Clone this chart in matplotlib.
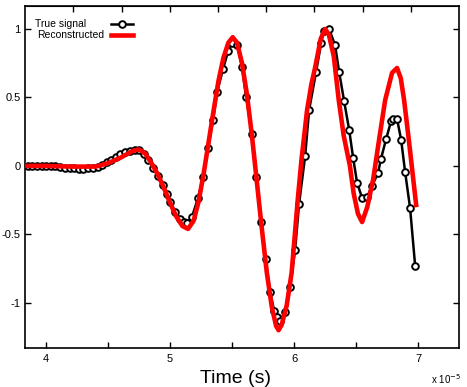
import numpy as np
import matplotlib
matplotlib.use("Agg")
import matplotlib.pyplot as plt
from matplotlib.lines import Line2D

plt.rcParams["font.family"] = ["Liberation Sans", "DejaVu Sans"]

# time in units of 1e-5 s
true_t = [3.855, 3.89, 3.93, 3.965, 4.0, 4.04, 4.075, 4.115, 4.15, 4.19, 4.225, 4.265,
          4.30, 4.34, 4.375, 4.415, 4.45, 4.49, 4.525, 4.565, 4.60, 4.64, 4.675, 4.715,
          4.75, 4.79, 4.825, 4.865, 4.90, 4.94, 4.975, 5.00, 5.04, 5.08, 5.11, 5.14,
          5.177, 5.226, 5.266, 5.306, 5.347, 5.379, 5.427, 5.468, 5.50, 5.54, 5.58,
          5.613, 5.661, 5.694, 5.734, 5.77, 5.806, 5.84, 5.863, 5.887, 5.927, 5.968,
          6.008, 6.04, 6.089, 6.121, 6.177, 6.218, 6.24, 6.282, 6.33, 6.363, 6.403,
          6.444, 6.476, 6.508, 6.548, 6.589, 6.629, 6.677, 6.70, 6.742, 6.782, 6.80,
          6.83, 6.863, 6.895, 6.935, 6.976]
true_y = [0.0, 0.0, 0.0, 0.0, 0.0, -0.002, -0.004, -0.008, -0.012, -0.015, -0.018, -0.02,
          -0.02, -0.017, -0.012, -0.005, 0.008, 0.025, 0.045, 0.065, 0.085, 0.10, 0.112, 0.118,
          0.115, 0.09, 0.045, -0.015, -0.075, -0.14, -0.205, -0.263, -0.336, -0.385, -0.41, -0.416,
          -0.37, -0.234, -0.08, 0.131, 0.336, 0.54, 0.708, 0.839, 0.895, 0.885, 0.723,
          0.504, 0.234, -0.08, -0.409, -0.68, -0.92, -1.06, -1.10, -1.131, -1.066, -0.883,
          -0.613, -0.277, 0.073, 0.409, 0.686, 0.898, 0.985, 1.0, 0.883, 0.686, 0.474,
          0.263, 0.058, -0.124, -0.234, -0.226, -0.146, -0.05, 0.05, 0.197, 0.328, 0.34,
          0.343, 0.19, -0.044, -0.307, -0.73]

rec_t = [3.85, 4.0, 4.2, 4.4, 4.5, 4.6, 4.7, 4.75, 4.8, 4.85, 4.9, 4.95, 5.0, 5.05, 5.1,
         5.145, 5.19, 5.23, 5.27, 5.31, 5.35, 5.39, 5.43, 5.47, 5.505, 5.54, 5.58, 5.62,
         5.66, 5.70, 5.74, 5.78, 5.82, 5.855, 5.875, 5.90, 5.94, 5.98, 6.03, 6.06, 6.105,
         6.14, 6.17, 6.215, 6.25, 6.28, 6.32, 6.36, 6.40, 6.45, 6.48, 6.515, 6.548, 6.59,
         6.637, 6.69, 6.734, 6.79, 6.83, 6.86, 6.887, 6.93, 6.984]
rec_y = [0.0, 0.0, -0.005, -0.005, 0.02, 0.06, 0.11, 0.12, 0.09, 0.02, -0.06, -0.16,
         -0.27, -0.37, -0.44, -0.46, -0.40, -0.26, -0.06, 0.17, 0.40, 0.62, 0.79, 0.90,
         0.94, 0.90, 0.75, 0.52, 0.22, -0.12, -0.46, -0.78, -1.03, -1.17, -1.20, -1.16,
         -1.02, -0.78, -0.24, 0.05, 0.41, 0.60, 0.72, 0.93, 1.0, 0.96, 0.80, 0.48, 0.22,
         0.0, -0.2, -0.35, -0.41, -0.30, -0.10, 0.22, 0.48, 0.68, 0.715, 0.64, 0.48, 0.15,
         -0.285]

x_ticks = [4, 4.5, 5, 5.5, 6, 6.5, 7]
x_labels = ["4", "", "5", "", "6", "", "7"]
y_ticks = [-1, -0.5, 0, 0.5, 1]
y_labels = ["-1", "-0.5", "0", "0.5", "1"]

fig = plt.figure(figsize=(4.67, 3.87), dpi=100)
ax = fig.add_axes([0.0535, 0.1008, 0.9295, 0.8837])

ax.plot(true_t, true_y, color="black", lw=1.8, marker="o", ms=4.8,
        mfc="white", mec="black", mew=1.4, zorder=2)
ax.plot(rec_t, rec_y, color="#ff0000", lw=3.3, zorder=3)

ax.set_xlim(3.83, 7.33)
ax.set_ylim(-1.33, 1.168)
ax.set_xticks(x_ticks)
ax.set_xticklabels(x_labels)
ax.set_yticks(y_ticks)
ax.set_yticklabels(y_labels)

ax.tick_params(direction="in", length=4, width=1, labelsize=8, right=True, top=False)
ax.tick_params(axis="x", pad=4)
ax.tick_params(axis="y", pad=3)

# top ticks (unlabelled)
top = ax.secondary_xaxis("top")
top.set_xticks([4.218, 4.613, 5.0, 5.387, 5.774, 6.161, 6.556, 6.944])
top.tick_params(direction="in", length=4, width=1, labeltop=False)

for s in ax.spines.values():
    s.set_linewidth(1.2)

ax.set_xlabel("Time (s)", fontsize=14)
ax.xaxis.set_label_coords(0.485, -0.065)
ax.xaxis.label.set_va("top")
ax.text(0.935, -0.09, r"x 10$^{-5}$", transform=ax.transAxes, fontsize=7,
        ha="left", va="center")

# legend: labels left, handles right
ax.text(0.023, 0.947, "True signal", transform=ax.transAxes, fontsize=7.5,
        ha="left", va="center")
ax.text(0.028, 0.915, "Reconstructed", transform=ax.transAxes, fontsize=7.5,
        ha="left", va="center")
ax.add_line(Line2D([0.198, 0.249], [0.947, 0.947], transform=ax.transAxes,
                   color="black", lw=1.8))
ax.add_line(Line2D([0.2235], [0.947], transform=ax.transAxes, color="black",
                   marker="o", ms=4.8, mfc="white", mec="black", mew=1.4))
ax.add_line(Line2D([0.198, 0.249], [0.915, 0.915], transform=ax.transAxes,
                   color="#ff0000", lw=3.3))

fig.savefig("out.png", dpi=100)
